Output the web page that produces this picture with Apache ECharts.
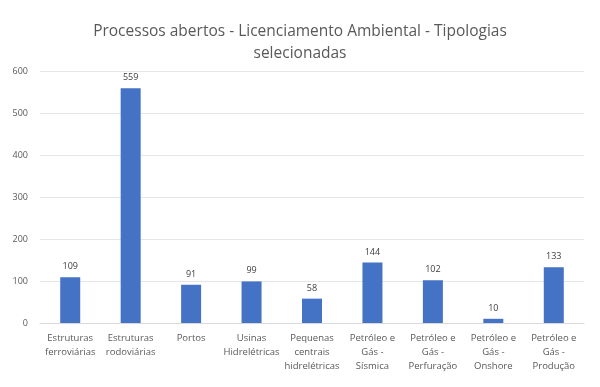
<!DOCTYPE html>
<html><head><meta charset="utf-8">
<script src="https://cdn.jsdelivr.net/npm/echarts@6/dist/echarts.min.js"></script>
<style>html,body{margin:0;padding:0;background:#fff}#c{width:600px;height:387px}</style>
</head><body><div id="c"></div>
<script>
const categories = ["Estruturas\nferroviárias","Estruturas\nrodoviárias","Portos","Usinas\nHidrelétricas","Pequenas\ncentrais\nhidrelétricas","Petróleo e\nGás -\nSísmica","Petróleo e\nGás -\nPerfuração","Petróleo e\nGás -\nOnshore","Petróleo e\nGás -\nProdução"];
const values = [109,559,91,99,58,144,102,10,133];
const titleText = "Processos abertos - Licenciamento Ambiental - Tipologias\nselecionadas";
const chart = echarts.init(document.getElementById('c'));
chart.setOption({
  backgroundColor:'#fff',
  animation:false,
  title:{text:titleText,left:'center',top:16,textStyle:{fontFamily:'Open Sans',fontSize:15.5,fontWeight:'normal',color:'#595959',lineHeight:22}},
  grid:{left:40,right:16,top:71,bottom:64},
  xAxis:{type:'category',data:categories,axisTick:{show:false},axisLine:{lineStyle:{color:'#d9d9d9'}},
    axisLabel:{interval:0,color:'#595959',fontSize:9.5,fontFamily:'Open Sans',lineHeight:14,margin:8}},
  yAxis:{type:'value',min:0,max:600,interval:100,axisLine:{show:false},axisTick:{show:false},
    splitLine:{lineStyle:{color:'#e6e6e6'}},axisLabel:{color:'#595959',fontSize:9,fontFamily:'Open Sans',margin:12}},
  series:[{type:'bar',data:values,barWidth:20,itemStyle:{color:'#4472C4'},
    label:{show:true,position:'top',color:'#404040',fontSize:9,fontFamily:'Open Sans',distance:6}}]
});
</script></body></html>
